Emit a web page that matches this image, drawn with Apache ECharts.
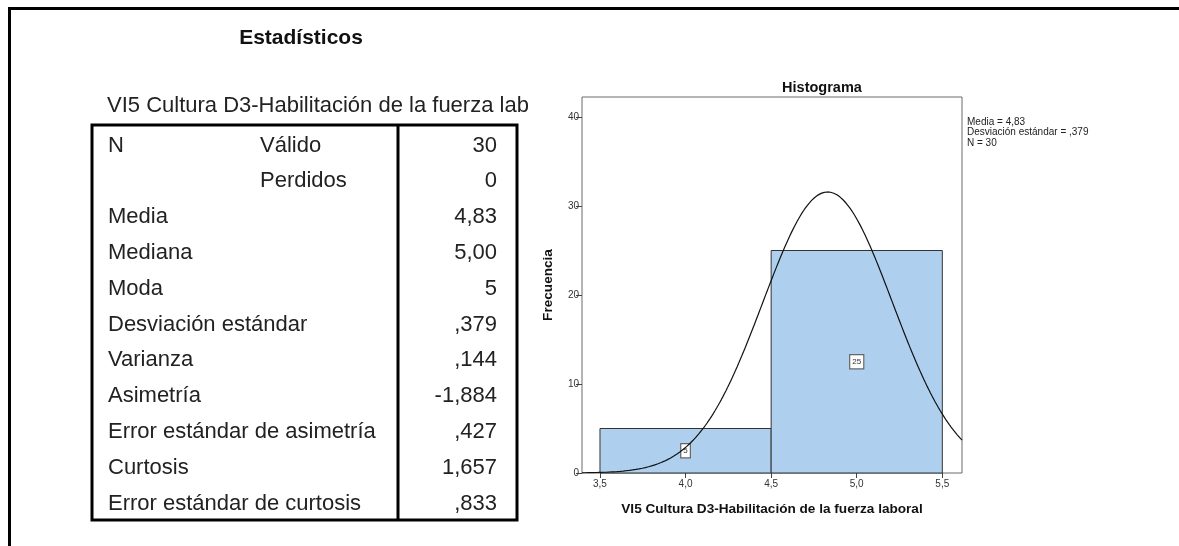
<!DOCTYPE html>
<html>
<head>
<meta charset="utf-8">
<script src="https://cdn.jsdelivr.net/npm/echarts@6/dist/echarts.min.js"></script>
<style>
  html, body { margin: 0; padding: 0; background: #fff; }
  #chart { width: 1179px; height: 546px; }
</style>
</head>
<body>
<div id="chart"></div>
<script>
// Statistics table
const tableTitle = 'Estadísticos';
const variableName = 'VI5 Cultura D3-Habilitación de la fuerza lab';
const statRowLabels = ['N', '', 'Media', 'Mediana', 'Moda', 'Desviación estándar', 'Varianza',
  'Asimetría', 'Error estándar de asimetría', 'Curtosis', 'Error estándar de curtosis'];
const statSubLabels = ['Válido', 'Perdidos', '', '', '', '', '', '', '', '', ''];
const statValues = ['30', '0', '4,83', '5,00', '5', ',379', ',144', '-1,884', ',427', '1,657', ',833'];

// Histogram
const histTitle = 'Histograma';
const xAxisName = 'VI5 Cultura D3-Habilitación de la fuerza laboral';
const yAxisName = 'Frecuencia';
const binStarts = [3.5, 4.5];
const binEnds = [4.5, 5.5];
const binCounts = [5, 25];
const xTicks = [3.5, 4.0, 4.5, 5.0, 5.5];
const yTicks = [0, 10, 20, 30, 40];
const mean = 4.83;
const stdDev = 0.379;
const nValid = 30;
const legendLines = ['Media = 4,83', 'Desviación estándar = ,379', 'N = 30'];

const FONT = "'Liberation Sans', Arial, sans-serif";
const xMin = 3.395, xMax = 5.615;
const binWidth = 1;

// Fitted normal curve scaled to counts (N * bin width * density)
const curve = [];
for (let i = 0; i <= 240; i++) {
  const x = xMin + (xMax - xMin) * i / 240;
  const z = (x - mean) / stdDev;
  curve.push([x, nValid * binWidth * Math.exp(-0.5 * z * z) / (stdDev * Math.sqrt(2 * Math.PI))]);
}

const bins = binCounts.map((c, i) => [binStarts[i], binEnds[i], c]);

// Table graphics
const tbl = { left: 92, right: 517, top: 125, bottom: 520, divider: 398, row0: 145.5, rowStep: 35.8 };
const graphics = [
  // page frame
  { type: 'rect', shape: { x: 8, y: 7, width: 1171, height: 3 }, style: { fill: '#000' } },
  { type: 'rect', shape: { x: 8, y: 7, width: 3, height: 539 }, style: { fill: '#000' } },
  { type: 'text', style: { text: tableTitle, x: 301, y: 38, font: 'bold 21px ' + FONT, fill: '#111',
      textAlign: 'center', textVerticalAlign: 'middle', align: 'center', verticalAlign: 'middle' } },
  { type: 'text', style: { text: variableName, x: 107, y: 106, font: '22px ' + FONT, fill: '#222',
      textAlign: 'left', textVerticalAlign: 'middle', align: 'left', verticalAlign: 'middle' } },
  { type: 'rect', shape: { x: tbl.left, y: tbl.top, width: tbl.right - tbl.left, height: tbl.bottom - tbl.top },
    style: { fill: 'none', stroke: '#000', lineWidth: 3 } },
  { type: 'line', shape: { x1: tbl.divider, y1: tbl.top, x2: tbl.divider, y2: tbl.bottom },
    style: { stroke: '#000', lineWidth: 3 } }
];
statRowLabels.forEach((lab, i) => {
  const y = tbl.row0 + tbl.rowStep * i;
  if (lab) graphics.push({ type: 'text', style: { text: lab, x: 108, y, font: '22px ' + FONT, fill: '#222',
    textAlign: 'left', textVerticalAlign: 'middle', align: 'left', verticalAlign: 'middle' } });
  if (statSubLabels[i]) graphics.push({ type: 'text', style: { text: statSubLabels[i], x: 260, y, font: '22px ' + FONT, fill: '#222',
    textAlign: 'left', textVerticalAlign: 'middle', align: 'left', verticalAlign: 'middle' } });
  graphics.push({ type: 'text', style: { text: statValues[i], x: 497, y, font: '22px ' + FONT, fill: '#222',
    textAlign: 'right', textVerticalAlign: 'middle', align: 'right', verticalAlign: 'middle' } });
});
legendLines.forEach((t, i) => {
  graphics.push({ type: 'text', style: { text: t, x: 967, y: 122.5 + 10.2 * i, font: '10px ' + FONT, fill: '#222',
    textAlign: 'left', textVerticalAlign: 'middle', align: 'left', verticalAlign: 'middle' } });
});

const fmtDec = v => v.toFixed(1).replace('.', ',');

const chart = echarts.init(document.getElementById('chart'), null, { renderer: 'canvas' });
chart.setOption({
  backgroundColor: '#fff',
  animation: false,
  title: {
    text: histTitle, left: 817, top: 75, textAlign: 'center',
    textStyle: { fontFamily: FONT, fontWeight: 'bold', fontSize: 14.5, color: '#111' }
  },
  grid: { left: 582, top: 97, width: 380, height: 376, show: true, borderColor: '#6a6a6a', borderWidth: 1, backgroundColor: 'transparent' },
  xAxis: {
    type: 'value', min: xMin, max: xMax,
    name: xAxisName, nameLocation: 'middle', nameGap: 29,
    nameTextStyle: { fontFamily: FONT, fontWeight: 'bold', fontSize: 13.6, color: '#111' },
    axisLine: { show: false },
    axisTick: { show: true, inside: false, customValues: xTicks, length: 5, lineStyle: { color: '#444' } },
    axisLabel: { customValues: xTicks, formatter: fmtDec, margin: 6, fontFamily: FONT, fontSize: 10, color: '#333' },
    splitLine: { show: false }
  },
  yAxis: {
    type: 'value', min: 0, max: 42.25,
    name: yAxisName, nameLocation: 'middle', nameGap: 27, nameRotate: 90,
    nameTextStyle: { fontFamily: FONT, fontWeight: 'bold', fontSize: 13.6, color: '#111' },
    axisLine: { show: false },
    axisTick: { show: true, inside: false, customValues: yTicks, length: 6, lineStyle: { color: '#444' } },
    axisLabel: { customValues: yTicks, margin: 3, fontFamily: FONT, fontSize: 10, color: '#333' },
    splitLine: { show: false }
  },
  series: [
    {
      type: 'custom',
      data: bins,
      encode: { x: [0, 1], y: 2 },
      renderItem: (params, api) => {
        const x0 = api.value(0), x1 = api.value(1), h = api.value(2);
        const pTop = api.coord([x0, h]);
        const pBot = api.coord([x1, 0]);
        const pMid = api.coord([(x0 + x1) / 2, h / 2]);
        return {
          type: 'group',
          children: [
            { type: 'rect', shape: { x: pTop[0], y: pTop[1], width: pBot[0] - pTop[0], height: pBot[1] - pTop[1] },
              style: { fill: '#aed0ee', stroke: '#333', lineWidth: 1 } },
            { type: 'text', z2: 10, style: { text: String(h), x: pMid[0], y: pMid[1], font: '8px ' + FONT, fill: '#333',
                align: 'center', verticalAlign: 'middle', textAlign: 'center', textVerticalAlign: 'middle',
                backgroundColor: '#fff', borderColor: '#666', borderWidth: 1.2, padding: [3, 2, 2, 2] } }
          ]
        };
      },
      z: 2
    },
    {
      type: 'line',
      data: curve,
      showSymbol: false,
      symbol: 'none',
      smooth: false,
      lineStyle: { color: '#111', width: 1.2 },
      z: 3
    }
  ],
  graphic: graphics
});
</script>
</body>
</html>
